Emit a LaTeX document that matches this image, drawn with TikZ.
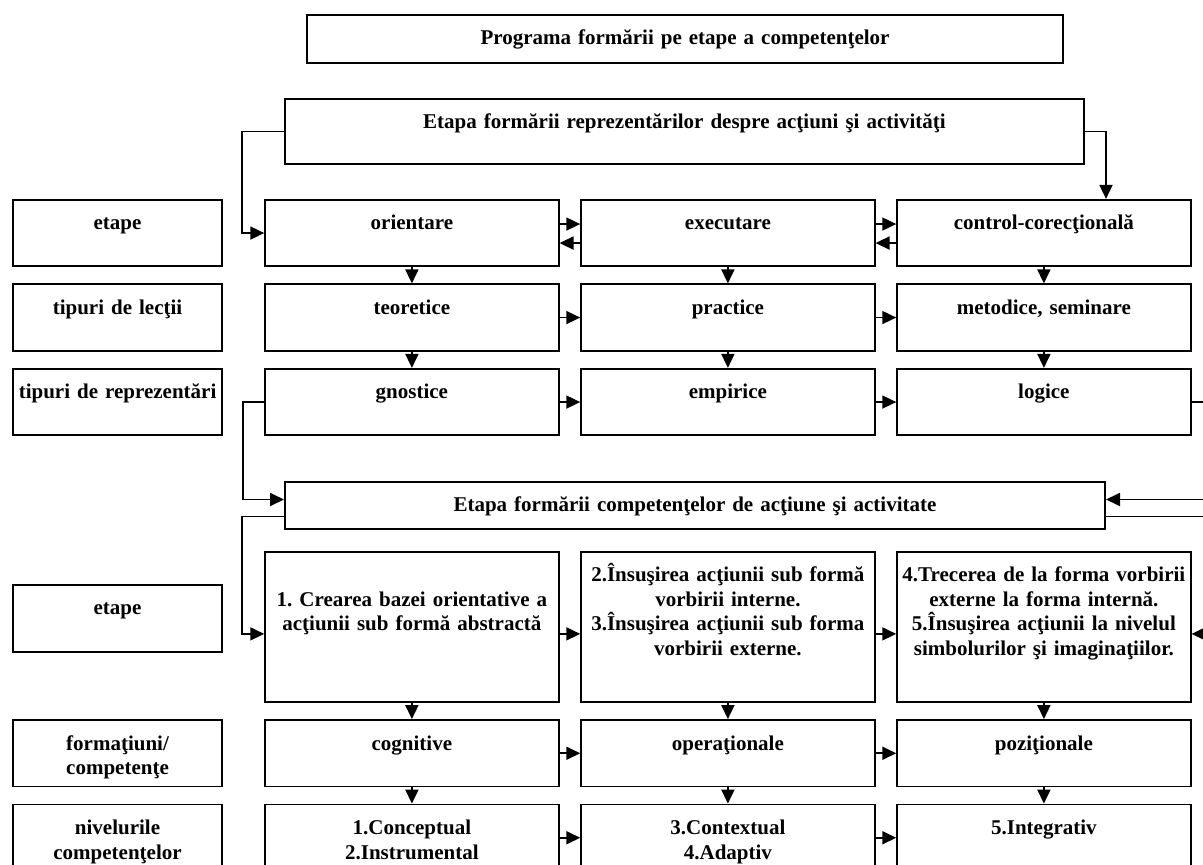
\documentclass[tikz,border=0pt]{standalone}
\usepackage{fontspec}
\setmainfont{Liberation Serif}
\frenchspacing
\usetikzlibrary{arrows.meta,matrix}

\begin{document}
\begin{tikzpicture}[x=1pt,y=-1pt,line width=1.8pt,
  every node/.style={font=\bfseries\fontsize{21}{24.5}\selectfont},
  box/.style={draw,anchor=north,align=center,text width=#1,inner xsep=0pt,inner ysep=0pt,text height=30pt,text depth=36.5pt},
  box/.default=293.5pt,
  arr/.style={-{Triangle[length=14pt,width=13pt]}}]
\fill[white] (0,0) rectangle (1203,865);
\useasboundingbox (0,0) rectangle (1203,865);

\node[box=756.2pt,text depth=18.2pt] (prog) at (685,14) {Programa formării pe etape a competenţelor};
\node[box=799.2pt,text depth=35.2pt] (e1) at (684.5,98) {Etapa formării reprezentărilor despre acţiuni şi activităţi};
\node[box=820.2pt,text depth=17.2pt] (e2) at (695,481) {Etapa formării competenţelor de acţiune şi activitate};

\matrix (m)[matrix of nodes,anchor=north west,inner sep=0pt,column sep=20.7pt,row sep=16.2pt,
  nodes={box},column 1/.style={nodes={text width=209.5pt}},row 4/.style={nodes={text depth=120.2pt}}] at (11,198) {
etape &[20.35pt] orientare & executare & control-corecţională\\
tipuri de lecţii & teoretice & practice & metodice, seminare\\
tipuri de reprezentări & gnostice & empirice & logice\\[98.5pt]
|[yshift=-33pt,text depth=37.2pt]| etape & |[text height=54.5pt,text depth=95.7pt]| {1. Crearea bazei orientative a\\acţiunii sub formă abstractă} & {2.Însuşirea acţiunii sub formă\\vorbirii interne.\\3.Însuşirea acţiunii sub forma\\vorbirii externe.} & {4.Trecerea de la forma vorbirii\\externe la forma internă.\\5.Însuşirea acţiunii la nivelul\\simbolurilor şi imaginaţiilor.}\\
{formaţiuni/\\competenţe} & cognitive & operaţionale & poziţionale\\
{nivelurile\\competenţelor} & {1.Conceptual\\2.Instrumental} & {3.Contextual\\4.Adaptiv} & 5.Integrativ\\
};

\draw[arr] (e1.west) -- ++(-42,0) |- (m-1-2.west);
\draw[arr] (e1.east) -- ++(21,0) coordinate (r1) -- (r1 |- m-1-4.north);

\draw[arr] ([yshift=9pt]m-1-2.east) -- ([yshift=9pt]m-1-3.west);
\draw[arr] ([yshift=-10pt]m-1-3.west) -- ([yshift=-10pt]m-1-2.east);
\draw[arr] ([yshift=9pt]m-1-3.east) -- ([yshift=9pt]m-1-4.west);
\draw[arr] ([yshift=-10pt]m-1-4.west) -- ([yshift=-10pt]m-1-3.east);

\draw[arr] (m-1-2.south) -- (m-2-2.north);
\draw[arr] (m-1-3.south) -- (m-2-3.north);
\draw[arr] (m-1-4.south) -- (m-2-4.north);
\draw[arr] (m-2-2.east) -- (m-2-3.west);
\draw[arr] (m-2-3.east) -- (m-2-4.west);
\draw[arr] (m-2-2.south) -- (m-3-2.north);
\draw[arr] (m-2-3.south) -- (m-3-3.north);
\draw[arr] (m-2-4.south) -- (m-3-4.north);
\draw[arr] (m-3-2.east) -- (m-3-3.west);
\draw[arr] (m-3-3.east) -- (m-3-4.west);

\draw[arr] (m-3-2.west) -- ++(-21,0) |- ([yshift=6pt]e2.west);
\draw[arr] (m-3-4.east) -- ++(30,0) |- ([yshift=6pt]e2.east);
\draw[arr] ([yshift=-11pt]e2.west) -- ++(-42,0) |- ([yshift=-7pt]m-4-2.west);
\draw[arr] ([yshift=-11pt]e2.east) -- ++(115,0) |- ([yshift=-7pt]m-4-4.east);

\draw[arr] ([yshift=-7pt]m-4-2.east) -- ([yshift=-7pt]m-4-3.west);
\draw[arr] ([yshift=-7pt]m-4-3.east) -- ([yshift=-7pt]m-4-4.west);
\draw[arr] (m-4-2.south) -- (m-5-2.north);
\draw[arr] (m-4-3.south) -- (m-5-3.north);
\draw[arr] (m-4-4.south) -- (m-5-4.north);
\draw[arr] (m-5-2.east) -- (m-5-3.west);
\draw[arr] (m-5-3.east) -- (m-5-4.west);
\draw[arr] (m-5-2.south) -- (m-6-2.north);
\draw[arr] (m-5-3.south) -- (m-6-3.north);
\draw[arr] (m-5-4.south) -- (m-6-4.north);
\draw[arr] (m-6-2.east) -- (m-6-3.west);
\draw[arr] (m-6-3.east) -- (m-6-4.west);

\end{tikzpicture}
\end{document}
